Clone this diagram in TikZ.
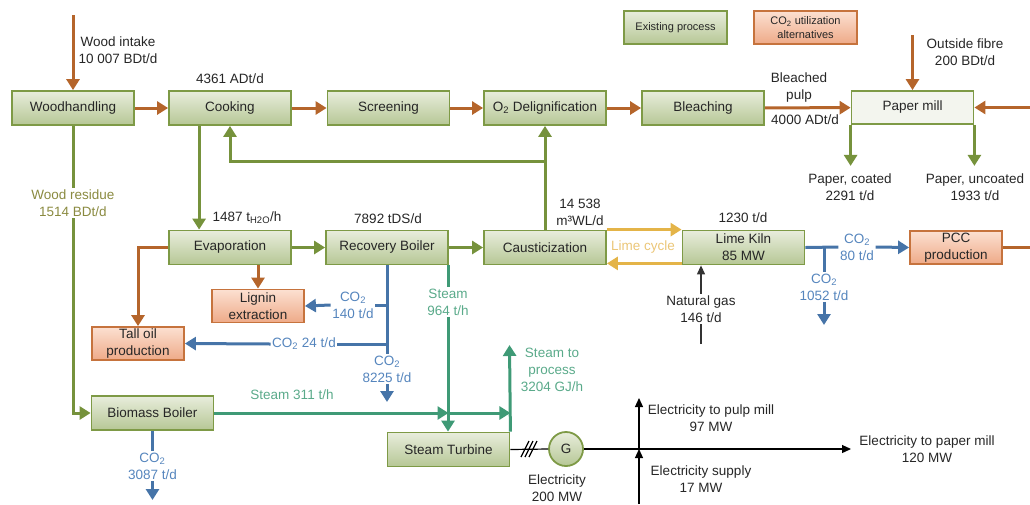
\documentclass[tikz,border=0pt]{standalone}
\usepackage{fontspec}
\setmainfont{Liberation Sans}
\usetikzlibrary{arrows.meta}

\definecolor{pulpbrown}{HTML}{B5652B}
\definecolor{liquor}{HTML}{76923C}
\definecolor{steamc}{HTML}{3F9A76}
\definecolor{steamtxt}{HTML}{5AAA8A}
\definecolor{co2line}{HTML}{4674A8}
\definecolor{co2txt}{HTML}{5585BD}
\definecolor{limec}{HTML}{E4B448}
\definecolor{limetxt}{HTML}{EBC677}
\definecolor{residue}{HTML}{8A8A40}
\definecolor{gedge}{HTML}{7E9A46}
\definecolor{gtop}{HTML}{E8EDDC}
\definecolor{gbot}{HTML}{B6C795}
\definecolor{oedge}{HTML}{C6733D}
\definecolor{otop}{HTML}{FCE0D1}
\definecolor{obot}{HTML}{EEAA88}
\definecolor{pmfill}{HTML}{F3F5EE}
\definecolor{boxtext}{HTML}{262626}

\tikzset{
  unitbox/.style={draw=gedge, line width=1.8pt, top color=gtop, bottom color=gbot,
    minimum width=122pt, minimum height=34pt, inner sep=1pt, text=boxtext, align=center},
  altbox/.style={draw=oedge, line width=1.8pt, top color=otop, bottom color=obot,
    minimum width=92pt, minimum height=33pt, inner sep=1pt, text=boxtext, align=center},
  millbox/.style={draw=gedge, line width=1.8pt, fill=pmfill,
    minimum width=122pt, minimum height=33pt, inner sep=1pt, text=boxtext},
  lbl/.style={inner sep=1.5pt, align=center, text=boxtext},
  arrowhd/.style={-{Triangle[length=11pt,width=13pt]}},
  ptip/.style={-{Triangle[length=9pt,width=8pt]}},
  pulp/.style={draw=pulpbrown, line width=3pt},
  liq/.style={draw=liquor, line width=3pt},
  steam/.style={draw=steamc, line width=3pt},
  co2/.style={draw=co2line, line width=3pt},
  lime/.style={draw=limec, line width=3pt},
  power/.style={draw=black, line width=1.2pt},
}

\begin{document}
\begin{tikzpicture}[x=1pt,y=-1pt,font=\fontsize{13.5}{17}\selectfont]
\useasboundingbox (0,0) rectangle (1030,504);

% legend
\node[unitbox, minimum width=103pt, minimum height=33pt, font=\fontsize{11}{14}\selectfont]
  (legexist) at (675.5,27.5) {Existing process};
\node[altbox, minimum width=103pt, minimum height=33pt, font=\fontsize{11}{14}\selectfont]
  (legalt) at (805.5,27.5) {CO\textsubscript{2} utilization\\alternatives};

% fibre line
\node[unitbox] (wh)   at (73,108)    {Woodhandling};
\node[unitbox] (cook) at (230,108)   {Cooking};
\node[unitbox] (scr)  at (388.5,108) {Screening};
\node[unitbox] (o2)   at (545,108)   {O\textsubscript{2} Delignification};
\node[unitbox] (bl)   at (703,108)   {Bleaching};
\node[millbox] (pm)   at (912.5,107.5) {Paper mill};

% chemical recovery and energy
\node[unitbox] (evap)  at (230,247.5)   {Evaporation};
\node[unitbox] (rb)    at (387,247.5)   {Recovery Boiler};
\node[unitbox] (caust) at (545,247.5)   {Causticization};
\node[unitbox] (lk)    at (743.5,247.5) {Lime Kiln\\85 MW};
\node[altbox]  (pcc)   at (956,247.5)   {PCC\\production};
\node[altbox]  (lig)   at (258,306)     {Lignin\\extraction};
\node[altbox]  (toil)  at (138,343.5)   {Tall oil\\production};
\node[unitbox] (bb)    at (152.5,413)   {Biomass Boiler};
\node[unitbox] (st)    at (448.5,449.5) {Steam Turbine};
\node[circle, draw=gedge, line width=1.8pt, top color=gtop, bottom color=gbot,
  minimum size=34pt, inner sep=0pt, text=boxtext] (gen) at (566,449) {G};

% flow labels
\node[lbl] (lwood)   at (118,50)  {Wood intake\\10 007 BDt/d};
\node[lbl] (lcook)   at (230,79)  {4361 ADt/d};
\node[lbl] (lbpulp)  at (799,88)  {Bleached\\pulp};
\node[lbl] (lbamt)   at (805,120) {4000 ADt/d};
\node[lbl] (lfibre)  at (965,52)  {Outside fibre\\200 BDt/d};
\node[lbl] (lcoated) at (850,187) {Paper, coated\\2291 t/d};
\node[lbl] (luncoat) at (975,187) {Paper, uncoated\\1933 t/d};
\node[lbl, text=residue] (lres) at (73,203) {Wood residue\\1514 BDt/d};
\node[lbl] (lh2o)    at (247,218) {1487 t\textsubscript{H2O}/h};
\node[lbl] (lds)     at (388,219) {7892 tDS/d};
\node[lbl] (lwl)     at (580,212) {14 538\\m³WL/d};
\node[lbl] (lkiln)   at (743,218) {1230 t/d};
\node[lbl, text=limetxt] (lcycle) at (643,247) {Lime cycle};
\node[lbl, text=co2txt] (l80)   at (857,247) {CO\textsubscript{2}\\80 t/d};
\node[lbl, text=co2txt] (l1052) at (824,287) {CO\textsubscript{2}\\1052 t/d};
\node[lbl] (lgas)    at (701,309) {Natural gas\\146 t/d};
\node[lbl, text=co2txt] (l140)  at (353,305) {CO\textsubscript{2}\\140 t/d};
\node[lbl, text=co2txt] (l24)   at (304,344) {CO\textsubscript{2} 24 t/d};
\node[lbl, text=co2txt] (l8225) at (387,369) {CO\textsubscript{2}\\8225 t/d};
\node[lbl, text=steamtxt] (l964)  at (448,302) {Steam\\964 t/h};
\node[lbl, text=steamtxt] (l311)  at (292,395) {Steam 311 t/h};
\node[lbl, text=steamtxt] (lproc) at (552,370) {Steam to\\process\\3204 GJ/h};
\node[lbl, text=co2txt] (l3087) at (152.5,466) {CO\textsubscript{2}\\3087 t/d};
\node[lbl] (lgen)       at (557,488) {Electricity\\200 MW};
\node[lbl] (lpulpmill)  at (711,418) {Electricity to pulp mill\\97 MW};
\node[lbl] (lsupply)    at (701,479) {Electricity supply\\17 MW};
\node[lbl] (lpapermill) at (927,449) {Electricity to paper mill\\120 MW};

% free ends
\coordinate (woodin)   at (73,15);
\coordinate (fibrein)  at (912.5,35);
\coordinate (pmfeed)   at (1030,107.5);
\coordinate (pccout)   at (1030,247.5);
\coordinate (wlsplit)  at (545,161);
\coordinate (gasin)    at (701,344);
\coordinate (co2kiln)  at (824,325);
\coordinate (co2rb)    at (387,402);
\coordinate (co2bb)    at (152.5,500);
\coordinate (steamout) at (509.5,345);
\coordinate (eljunc)   at (639,449);
\coordinate (elpulp)   at (639,398);
\coordinate (elsupply) at (639,504);
\coordinate (epaper)   at (851,449);

% fibre and pulp
\draw[pulp,arrowhd] (woodin) -- (wh.north);
\draw[pulp,arrowhd] (wh) -- (cook);
\draw[pulp,arrowhd] (cook) -- (scr);
\draw[pulp,arrowhd] (scr) -- (o2);
\draw[pulp,arrowhd] (o2) -- (bl);
\draw[pulp,arrowhd] (bl) -- (pm);
\draw[pulp,arrowhd] (fibrein) -- (pm.north);
\draw[pulp,arrowhd] (pmfeed) -- (pm.east);
\draw[pulp] (pcc.east) -- (pccout);
\draw[pulp,arrowhd] (evap.west) -| (toil.north);
\draw[pulp,arrowhd] (lig.north |- evap.south) -- (lig.north);

% liquors and products
\draw[liq,arrowhd] (pm.south west) -- ++(0,41);
\draw[liq,arrowhd] (pm.south east) -- ++(0,41);
\draw[liq,arrowhd] ([xshift=31pt]cook.south west) -- ([xshift=31pt]evap.north west);
\draw[liq] (caust.north) -- (wlsplit);
\draw[liq,arrowhd] (wlsplit) -- (o2.south);
\draw[liq,arrowhd] (wlsplit) -| (cook.south);
\draw[liq,arrowhd] (evap) -- (rb);
\draw[liq,arrowhd] (rb) -- (caust);
\draw[liq] (wh.south) -- (lres.north);
\draw[liq,arrowhd] (lres.south) |- (bb.west);

% lime cycle
\draw[lime,arrowhd] (caust.north east) -- (caust.north east -| lk.west);
\draw[lime,arrowhd] ([yshift=2pt]caust.south east -| lk.west) -- ([yshift=2pt]caust.south east);

% natural gas
\draw[power, draw=black!80] (gasin) -- (lgas.south);
\draw[power, draw=black!80, ptip] (lgas.north) -- (lgas.north |- lk.south);

% carbon dioxide
\draw[co2] (lk.east) -- (l80.west);
\draw[co2,arrowhd] (l80.east) -- (pcc.west);
\draw[co2] (lk.east -| l1052.north) -- (l1052.north);
\draw[co2,arrowhd] (l1052.south) -- (co2kiln);
\draw[co2] (rb.south) -- (l8225.north);
\draw[co2,arrowhd] (l8225.south) -- (co2rb);
\draw[co2] (rb.south |- l140.east) -- (l140.east);
\draw[co2,arrowhd] (l140.west) -- (lig.east);
\draw[co2] (rb.south |- l24.east) -- (l24.east);
\draw[co2,arrowhd] (l24.west) -- (toil.east);
\draw[co2] (bb.south) -- (l3087.north);
\draw[co2,arrowhd] (l3087.south) -- (co2bb);

% steam
\draw[steam] (rb.south east) -- (rb.south east |- l964.north);
\draw[steam,arrowhd] (l964.south) -- (l964.south |- st.north);
\draw[steam,arrowhd] (bb.east) -- (bb.east -| st.north);
\draw[steam,arrowhd] (bb.east -| st.north) -- (bb.east -| st.north east);
\draw[steam,arrowhd] (st.north east) -- (steamout);

% electricity
\draw[power] (st.east) -- (gen.west);
\foreach \dx in {0,4,8} \draw[power] (521+\dx,457) -- (529+\dx,441);
\draw[power,ptip] (gen.east) -- (epaper);
\draw[power,ptip] (elsupply) -- (eljunc);
\draw[power,ptip] (eljunc) -- (elpulp);
\end{tikzpicture}
\end{document}
